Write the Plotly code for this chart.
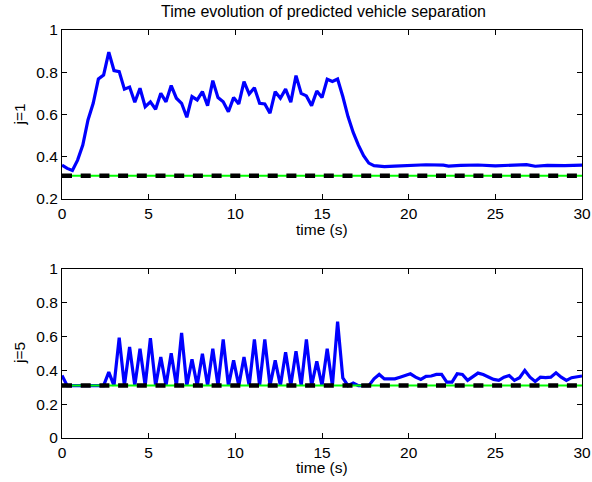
import plotly.graph_objects as go
from plotly.subplots import make_subplots

# ---- data ----
t_top = [0, 0.3, 0.6, 0.9, 1.2, 1.5, 1.8, 2.1, 2.4, 2.7, 3.0, 3.3, 3.6, 3.9, 4.2, 4.5, 4.8,
         5.1, 5.4, 5.7, 6.0, 6.3, 6.6, 6.9, 7.2, 7.5, 7.8, 8.1, 8.4, 8.7, 9.0, 9.3, 9.6, 9.9,
         10.2, 10.5, 10.8, 11.1, 11.4, 11.7, 12.0, 12.3, 12.6, 12.9, 13.2, 13.5, 13.8, 14.1,
         14.4, 14.7, 15.0, 15.3, 15.6, 15.9, 16.2, 16.5, 16.8, 17.1, 17.4, 17.7, 18.0, 18.3,
         18.6, 19.2, 20.0, 21.0, 22.0, 22.3, 23.0, 24.0, 25.0, 26.0, 26.8, 27.3, 28.0, 29.0, 30.0]
sep_j1 = [0.36, 0.345, 0.335, 0.384, 0.455, 0.574, 0.653, 0.768, 0.787, 0.895, 0.808, 0.803,
          0.72, 0.73, 0.658, 0.724, 0.637, 0.66, 0.625, 0.70, 0.66, 0.737, 0.677, 0.653, 0.587,
          0.685, 0.669, 0.708, 0.642, 0.76, 0.68, 0.66, 0.613, 0.68, 0.65, 0.756, 0.697, 0.727,
          0.653, 0.65, 0.606, 0.708, 0.677, 0.72, 0.658, 0.784, 0.70, 0.688, 0.642, 0.711, 0.68,
          0.767, 0.756, 0.768, 0.685, 0.59, 0.515, 0.455, 0.405, 0.37, 0.358, 0.354, 0.353,
          0.356, 0.360, 0.362, 0.360, 0.356, 0.359, 0.361, 0.357, 0.360, 0.363, 0.355, 0.359,
          0.358, 0.360]

t_bot = [0, 0.3, 0.6, 0.9, 1.2, 1.5, 1.8, 2.1, 2.4, 2.7, 3.0, 3.3, 3.6, 3.9, 4.2, 4.5, 4.8,
         5.1, 5.4, 5.7, 6.0, 6.3, 6.6, 6.9, 7.2, 7.5, 7.8, 8.1, 8.4, 8.7, 9.0, 9.3, 9.6, 9.9,
         10.2, 10.5, 10.8, 11.1, 11.4, 11.7, 12.0, 12.3, 12.6, 12.9, 13.2, 13.5, 13.8, 14.1,
         14.4, 14.7, 15.0, 15.3, 15.6, 15.9, 16.2, 16.5, 16.8, 17.1, 17.4, 17.7, 18.0, 18.3,
         18.6, 18.9, 19.2, 19.5, 19.8, 20.1, 20.4, 20.7, 21.0, 21.3, 21.6, 21.9, 22.2, 22.5,
         22.8, 23.1, 23.4, 23.7, 24.0, 24.3, 24.6, 24.9, 25.2, 25.5, 25.8, 26.1, 26.4, 26.7,
         27.0, 27.3, 27.6, 27.9, 28.2, 28.5, 28.8, 29.1, 29.4, 29.7, 30.0]
sep_j5 = [0.37, 0.31, 0.31, 0.31, 0.31, 0.31, 0.31, 0.31, 0.31, 0.39, 0.31, 0.593, 0.31, 0.538,
          0.31, 0.528, 0.31, 0.59, 0.31, 0.479, 0.31, 0.502, 0.31, 0.622, 0.31, 0.465, 0.31,
          0.498, 0.31, 0.528, 0.31, 0.583, 0.31, 0.459, 0.31, 0.479, 0.31, 0.583, 0.31, 0.583,
          0.31, 0.459, 0.31, 0.508, 0.31, 0.514, 0.31, 0.583, 0.31, 0.453, 0.31, 0.528, 0.31,
          0.689, 0.355, 0.31, 0.325, 0.31, 0.31, 0.31, 0.35, 0.376, 0.35, 0.35, 0.35, 0.36,
          0.372, 0.38, 0.36, 0.347, 0.365, 0.367, 0.376, 0.376, 0.331, 0.331, 0.38, 0.376,
          0.341, 0.36, 0.384, 0.376, 0.36, 0.347, 0.341, 0.36, 0.37, 0.341, 0.357, 0.40, 0.36,
          0.335, 0.36, 0.357, 0.36, 0.386, 0.36, 0.341, 0.357, 0.36, 0.367]

min_sep = 0.31
t_range = [0, 30]

title = "Time evolution of predicted vehicle separation"
ylabels = ["j=1", "j=5"]
xlabel = "time (s)"
ticks_x = [0, 5, 10, 15, 20, 25, 30]
ticks_top = [0.2, 0.4, 0.6, 0.8, 1]
ticks_bot = [0, 0.2, 0.4, 0.6, 0.8, 1]

FONT = "Liberation Sans, Arial, Helvetica, sans-serif"
FS = 15.5

fig = make_subplots(rows=2, cols=1, vertical_spacing=0.1716)

for row, (tt, yy) in enumerate([(t_top, sep_j1), (t_bot, sep_j5)], start=1):
    fig.add_trace(go.Scatter(x=tt, y=yy, mode="lines",
                             line=dict(color="#0000ff", width=3.2), showlegend=False),
                  row=row, col=1)
    fig.add_trace(go.Scatter(x=t_range, y=[min_sep, min_sep], mode="lines",
                             line=dict(color="#00ff00", width=2), showlegend=False),
                  row=row, col=1)
    fig.add_trace(go.Scatter(x=t_range, y=[min_sep, min_sep], mode="lines",
                             line=dict(color="black", width=4.5, dash="10px,8.7px"),
                             showlegend=False),
                  row=row, col=1)

axis_common = dict(showline=True, linecolor="black", linewidth=1, mirror="ticks",
                   ticks="inside", ticklen=5, tickcolor="black", showgrid=False,
                   zeroline=False, automargin=False,
                   tickfont=dict(family=FONT, size=FS, color="black"))

for row, yt, yr in [(1, ticks_top, [0.2, 1]), (2, ticks_bot, [0, 1])]:
    fig.update_xaxes(range=t_range, tickvals=ticks_x, row=row, col=1, **axis_common)
    fig.update_yaxes(range=yr, tickvals=yt, row=row, col=1, **axis_common)

fig.update_layout(
    template="none",
    width=592, height=482,
    margin=dict(l=62, r=10, t=30, b=44, pad=0),
    plot_bgcolor="white", paper_bgcolor="white",
    font=dict(family=FONT, size=FS, color="black"),
    yaxis=dict(domain=[0.5858, 1.0]),
    yaxis2=dict(domain=[0.0, 0.4142]),
)

# texts
fig.add_annotation(text=title, xref="paper", yref="paper", x=0.503, y=(438 - 12) / 408,
                   showarrow=False, xanchor="center", yanchor="middle",
                   font=dict(family=FONT, size=16, color="black"))
for lab, ypix in [(ylabels[0], 114.5), (ylabels[1], 353)]:
    fig.add_annotation(text=lab, xref="paper", yref="paper", x=(19 - 62) / 520,
                       y=(438 - ypix) / 408, showarrow=False, textangle=-90,
                       xanchor="center", yanchor="middle",
                       font=dict(family=FONT, size=FS, color="black"))
for ypix in [229, 467]:
    fig.add_annotation(text=xlabel, xref="paper", yref="paper", x=0.5,
                       y=(438 - ypix) / 408, showarrow=False,
                       xanchor="center", yanchor="middle",
                       font=dict(family=FONT, size=FS, color="black"))

fig.write_html("out.html")
